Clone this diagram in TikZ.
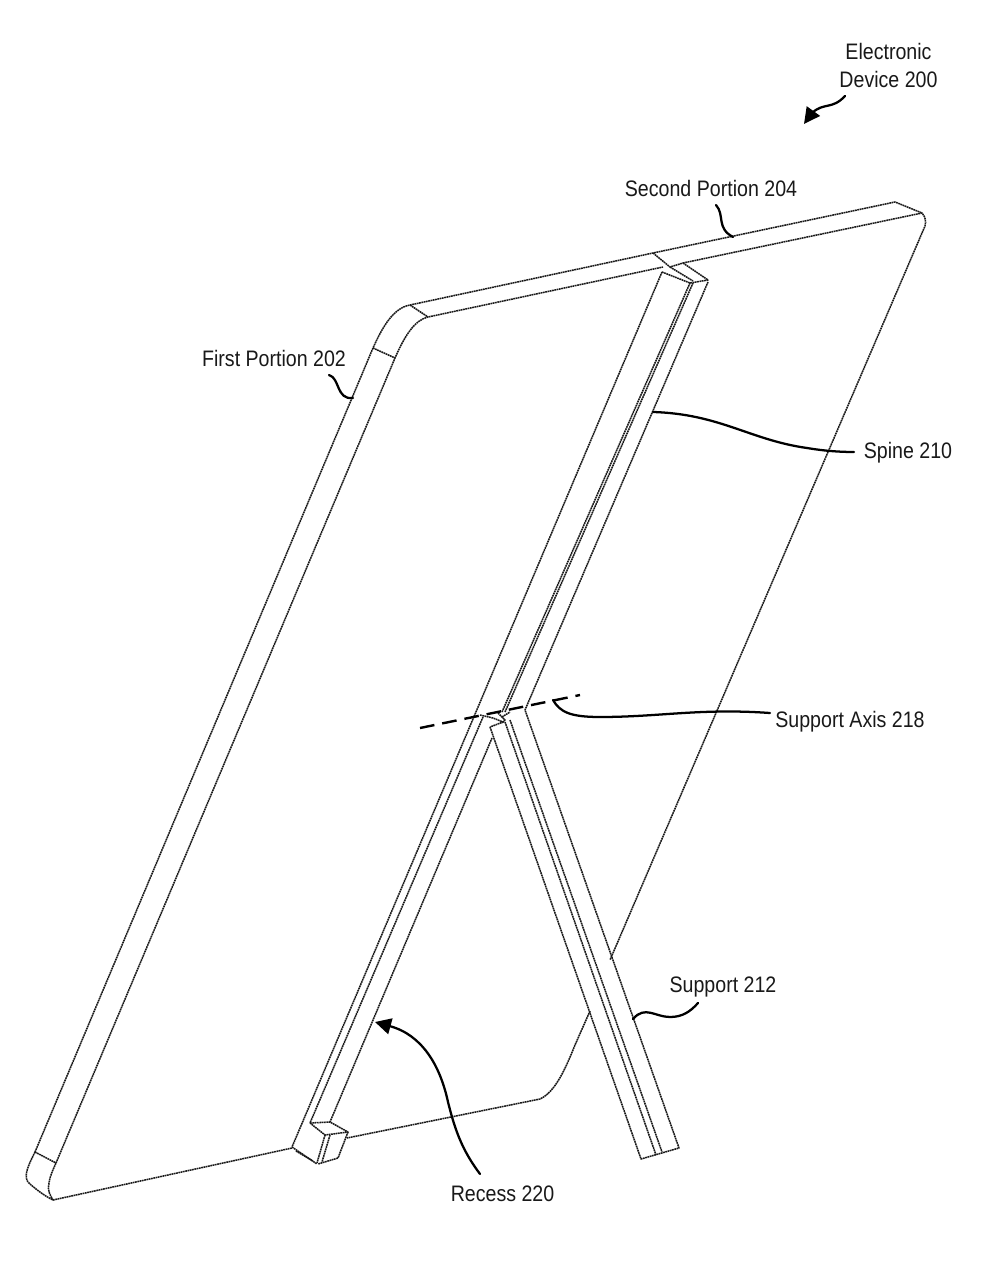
\documentclass[tikz,border=0pt]{standalone}
\usepackage{fontspec}
\setmainfont{Liberation Sans}
\usetikzlibrary{arrows.meta}
\tikzset{
  edge/.style={draw=black!90,line width=1.15pt,dash pattern=on 1.3pt off 0.45pt,line join=round},
  leader/.style={draw=black,line width=1.7pt,line cap=round},
  pointer/.style={leader,-{Triangle[length=12pt,width=12pt]}},
  axisline/.style={draw=black,line width=1.8pt,dash pattern=on 11pt off 6pt},
  lbl/.style={inner sep=0pt,outer sep=0pt,xscale=0.875,font=\fontsize{16.8}{21.6}\selectfont,text=black!90,align=center}
}
\begin{document}
\begin{tikzpicture}[x=0.75pt,y=-0.75pt]
\useasboundingbox (0,0) rectangle (1000,1273);
% labels
\node[lbl] (device) at (888.5,65.5) {Electronic\\Device 200};
\node[lbl] (second) at (711,188) {Second Portion 204};
\node[lbl] (first) at (274,358) {First Portion 202};
\node[lbl] (spine) at (908,453) {Spine 210};
\node[lbl] (axis) at (850,721.5) {Support Axis 218};
\node[lbl] (support) at (723,986.5) {Support 212};
\node[lbl] (recess) at (502.5,1193.5) {Recess 220};
% device outline
\draw[edge] (53,1200) -- (292,1148);
\draw[edge] (35,1152) .. controls (28,1166) and (22,1178) .. (30,1184) .. controls (38,1191) and (45,1196) .. (53,1200) .. controls (50,1195) and (47,1190) .. (49,1183) .. controls (50,1176) and (52,1172) .. (56,1163);
\draw[edge] (35,1152) -- (56,1163);
\draw[edge] (35,1152) -- (373,348) .. controls (382,328) and (393,308) .. (410,305) -- (653,253) -- (895,202) -- (922,213);
\draw[edge] (56,1163) -- (395,358) .. controls (405,335) and (415,320) .. (428,317) -- (663,267);
\draw[edge] (373,348) -- (395,358);
\draw[edge] (410,305) -- (428,317);
\draw[edge] (653,253) -- (670,267) -- (683,263);
\draw[edge] (683,263) -- (922,213) .. controls (926,218) and (926,221) .. (925,226) -- (610,960);
\draw[edge] (590,1011) -- (575,1045) .. controls (565,1070) and (555,1092) .. (540,1099) -- (347,1138);
% spine, upper part
\draw[edge] (662,272) -- (292,1147);
\draw[edge] (662,272) -- (690,283) -- (708,280) -- (683,263);
\draw[edge] (670,267) -- (693,281);
\draw[edge] (690,283) -- (502,712);
\draw[edge] (693,283) -- (505,712);
\draw[edge] (708,282) -- (525,710);
% recess
\draw[edge] (483,717) -- (310,1123);
\draw[edge] (492,738) -- (330,1122);
\draw[edge] (310,1123) -- (330,1122) -- (348,1132) -- (325,1135) -- cycle;
\draw[edge] (348,1132) -- (338,1158) -- (318,1164);
\draw[edge] (325,1135) -- (317,1163);
\draw[edge] (330,1135) -- (322,1162);
\draw[edge] (292,1147) -- (317,1164);
\draw[edge] (296,1151) -- (313,1161);
% support
\draw[edge] (490,727) -- (641,1159) -- (679,1148) -- (525,710);
\draw[edge] (505,722) -- (656,1155);
\draw[edge] (510,720) -- (662,1152);
\draw[edge] (480,715) -- (493,718) -- (503,722) -- (490,727);
\draw[edge] (498,713) -- (505,720) -- (502,723);
\draw[edge] (502,717) -- (510,712);
% support axis
\coordinate (axisA) at (420,728);
\coordinate (axisB) at (580,695);
\draw[axisline] (axisA) -- (axisB);
% leaders
\coordinate (deviceTail) at (845,96);
\coordinate (deviceTip) at (804,124);
\draw[pointer] (deviceTail) .. controls (832,110) and (824,102) .. (812,113) -- (deviceTip);
\coordinate (secondA) at (716,205);
\coordinate (secondB) at (733,237);
\draw[leader] (secondA) .. controls (725,215) and (716,228) .. (secondB);
\coordinate (firstA) at (329,375);
\coordinate (firstB) at (353,398);
\draw[leader] (firstA) .. controls (340,378) and (336,400) .. (firstB);
\coordinate (spineA) at (653,412);
\coordinate (spineB) at (854,452);
\draw[leader] (spineA) .. controls (720,414) and (750,440) .. (807,448) .. controls (825,451) and (840,452) .. (spineB);
\coordinate (axisC) at (553,700);
\coordinate (axisD) at (770,713);
\draw[leader] (axisC) .. controls (560,712) and (570,717) .. (600,717) .. controls (660,717) and (700,708) .. (axisD);
\coordinate (supportA) at (633,1019);
\coordinate (supportB) at (698,1003);
\draw[leader] (supportA) .. controls (645,1005) and (655,1017) .. (670,1017) .. controls (682,1017) and (690,1012) .. (supportB);
\coordinate (recessTail) at (480,1174);
\coordinate (recessTip) at (375,1022);
\draw[pointer] (recessTail) .. controls (462,1150) and (455,1130) .. (448,1102) .. controls (440,1065) and (422,1035) .. (recessTip);
\end{tikzpicture}
\end{document}
